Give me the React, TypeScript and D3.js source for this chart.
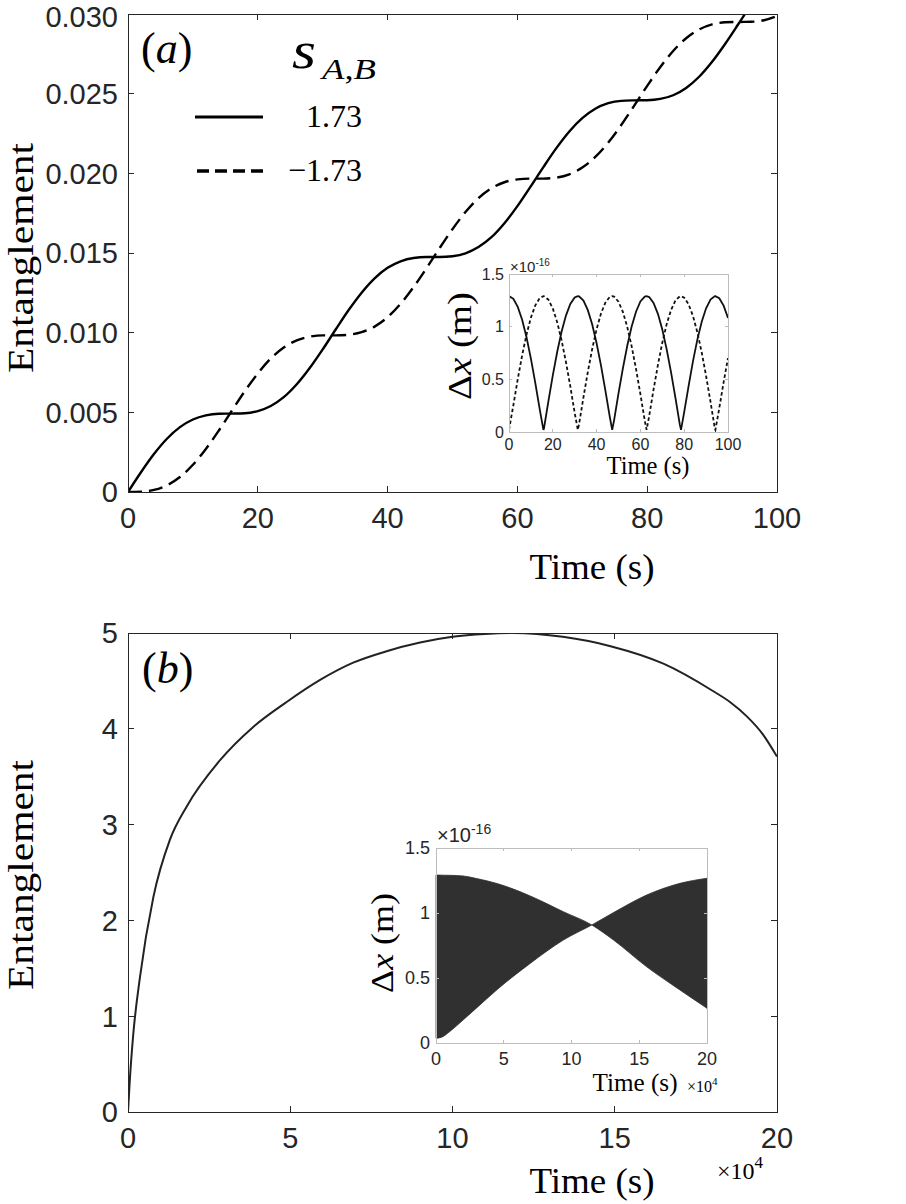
import React from 'react';
import * as d3 from 'd3';

// ---------- Panel (a): entanglement vs time ----------
const timeA = [0, 2, 4, 6, 8, 10, 12, 14, 16, 18, 20, 22, 24, 26, 28, 30, 32, 34, 36, 38, 40, 42, 44, 46, 48, 50, 52, 54, 56, 58, 60, 62, 64, 66, 68, 70, 72, 74, 76, 78, 80, 82, 84, 86, 88, 90, 92, 94, 96, 98, 100];
const entSolidA = [0, 0.00124, 0.00238, 0.00334, 0.00407, 0.00455, 0.00481, 0.00491, 0.00492, 0.00494, 0.00508, 0.0054, 0.00595, 0.00676, 0.00778, 0.00895, 0.0102, 0.01142, 0.01251, 0.01341, 0.01407, 0.01448, 0.01469, 0.01475, 0.01475, 0.0148, 0.01498, 0.01537, 0.01599, 0.01687, 0.01794, 0.01915, 0.02039, 0.02158, 0.02263, 0.02346, 0.02405, 0.0244, 0.02455, 0.02458, 0.02459, 0.02467, 0.0249, 0.02536, 0.02606, 0.027, 0.02812, 0.02934, 0.03059, 0.03174, 0.03273];
const entDashedA = [0, 0.00002, 0.00013, 0.00042, 0.00094, 0.00171, 0.0027, 0.00386, 0.0051, 0.00633, 0.00744, 0.00838, 0.00907, 0.00952, 0.00975, 0.00983, 0.00983, 0.00987, 0.01003, 0.01038, 0.01097, 0.01181, 0.01286, 0.01405, 0.0153, 0.0165, 0.01757, 0.01844, 0.01906, 0.01944, 0.01962, 0.01967, 0.01967, 0.01973, 0.01994, 0.02036, 0.02103, 0.02193, 0.02303, 0.02425, 0.02549, 0.02666, 0.02768, 0.02848, 0.02903, 0.02935, 0.02948, 0.0295, 0.02951, 0.02961, 0.02987];
const xTicksA = [0, 20, 40, 60, 80, 100];
const yTicksA = [0, 0.005, 0.01, 0.015, 0.02, 0.025, 0.03];
const yTickLabelsA = ['0', '0.005', '0.010', '0.015', '0.020', '0.025', '0.030'];
const legendLabels = ['1.73', '\u22121.73'];

// inset (a): Δx vs time
const insetTimeA = [0, 2, 4, 6, 8, 10, 12, 14, 15.71, 16, 18, 20, 22, 24, 26, 28, 30, 31.42, 32, 34, 36, 38, 40, 42, 44, 46, 47.12, 48, 50, 52, 54, 56, 58, 60, 62, 62.83, 64, 66, 68, 70, 72, 74, 76, 78, 78.54, 80, 82, 84, 86, 88, 90, 92, 94, 94.25, 96, 98, 100];
const insetSolidA = [1.29, 1.264, 1.188, 1.065, 0.899, 0.697, 0.467, 0.219, 0.02, 0.038, 0.293, 0.537, 0.759, 0.951, 1.105, 1.215, 1.277, 1.29, 1.288, 1.247, 1.157, 1.02, 0.843, 0.632, 0.396, 0.145, 0.02, 0.113, 0.366, 0.604, 0.819, 1.001, 1.142, 1.239, 1.285, 1.29, 1.281, 1.226, 1.122, 0.973, 0.785, 0.566, 0.324, 0.07, 0.02, 0.188, 0.436, 0.67, 0.877, 1.047, 1.175, 1.257, 1.29, 1.29, 1.27, 1.2, 1.082];
const insetDashedA = [0.02, 0.256, 0.502, 0.728, 0.925, 1.086, 1.202, 1.271, 1.29, 1.289, 1.256, 1.173, 1.043, 0.871, 0.665, 0.432, 0.182, 0.02, 0.075, 0.33, 0.571, 0.789, 0.976, 1.124, 1.228, 1.282, 1.29, 1.285, 1.237, 1.14, 0.997, 0.814, 0.599, 0.36, 0.107, 0.02, 0.15, 0.402, 0.637, 0.848, 1.024, 1.159, 1.249, 1.288, 1.29, 1.276, 1.213, 1.102, 0.947, 0.755, 0.532, 0.288, 0.032, 0.02, 0.225, 0.473, 0.702];
const insetXTicksA = [0, 20, 40, 60, 80, 100];
const insetYTicks = [0, 0.5, 1, 1.5];
const insetYTickLabels = ['0', '0.5', '1', '1.5'];

// ---------- Panel (b) ----------
const timeB = [0, 0.05, 0.154, 0.37, 0.78, 1.29, 1.81, 2.83, 3.86, 4.89, 5.92, 6.94, 7.97, 9.0, 10.0, 11.0, 11.9, 13.4, 14.9, 16.5, 18.0, 18.55, 19.07, 19.57, 20];
const entB = [0, 0.3, 0.78, 1.41, 2.24, 2.84, 3.19, 3.67, 4.02, 4.28, 4.51, 4.69, 4.81, 4.9, 4.96, 4.99, 5.0, 4.96, 4.86, 4.68, 4.4, 4.28, 4.13, 3.94, 3.71];
const xTicksB = [0, 5, 10, 15, 20];
const yTicksB = [0, 1, 2, 3, 4, 5];

// inset (b): envelope of the fast-oscillating Δx
const insetTimeB = [0, 0.5, 1, 2, 3, 4.5, 7, 9.4, 11.5, 13.1, 15.5, 18, 20];
const envelopeFromTop = [1.292, 1.291, 1.29, 1.285, 1.265, 1.227, 1.129, 1.01, 0.908, 0.792, 0.59, 0.408, 0.267];
const envelopeFromBottom = [0.036, 0.049, 0.087, 0.177, 0.27, 0.41, 0.616, 0.792, 0.908, 1.003, 1.136, 1.228, 1.267];
const insetXTicksB = [0, 5, 10, 15, 20];

const SERIF = '"Liberation Serif", "DejaVu Serif", "Noto Serif", serif';
const SANS = '"Liberation Sans", Arial, Helvetica, sans-serif';
const AXC = '#262626';

type Scale = d3.ScaleLinear<number, number>;

function Box({ x, y, xTicks, yTicks, stroke, tickLen }: { x: Scale; y: Scale; xTicks: number[]; yTicks: number[]; stroke: string; tickLen: number }) {
  const [x0, x1] = x.range();
  const [yb, yt] = y.range();
  return (
    <g stroke={stroke} strokeWidth={1} shapeRendering="crispEdges">
      <rect x={x0} y={yt} width={x1 - x0} height={yb - yt} fill="none" />
      {xTicks.map((t) => (
        <g key={'x' + t}>
          <line x1={x(t)} x2={x(t)} y1={yb} y2={yb - tickLen} />
          <line x1={x(t)} x2={x(t)} y1={yt} y2={yt + tickLen} />
        </g>
      ))}
      {yTicks.map((t) => (
        <g key={'y' + t}>
          <line x1={x0} x2={x0 + tickLen} y1={y(t)} y2={y(t)} />
          <line x1={x1} x2={x1 - tickLen} y1={y(t)} y2={y(t)} />
        </g>
      ))}
    </g>
  );
}

function TickLabels({ x, y, xTicks, yTicks, yLabels, xLabels, size, xBase, yRight }: { x: Scale; y: Scale; xTicks: number[]; yTicks: number[]; yLabels: string[]; xLabels: string[]; size: number; xBase: number; yRight: number }) {
  return (
    <g fontFamily={SANS} fontSize={size} fill={AXC}>
      {xTicks.map((t, i) => (
        <text key={'xl' + t} x={x(t)} y={xBase} textAnchor="middle">{xLabels[i]}</text>
      ))}
      {yTicks.map((t, i) => (
        <text key={'yl' + t} x={yRight} y={Math.max(y(t) + size * 0.36, size * 0.93)} textAnchor="end">{yLabels[i]}</text>
      ))}
    </g>
  );
}

function DeltaXLabel({ cx, cy, size, len }: { cx: number; cy: number; size: number; len: number }) {
  return (
    <text transform={`translate(${cx},${cy}) rotate(-90)`} textAnchor="middle" fontFamily={SERIF} fontSize={size} fill="#000" textLength={len} lengthAdjust="spacingAndGlyphs">
      {'\u0394'}<tspan fontStyle="italic">x</tspan>{' (m)'}
    </text>
  );
}

export default function App() {
  // panel a
  const xA = d3.scaleLinear().domain([0, 100]).range([128, 777]);
  const yA = d3.scaleLinear().domain([0, 0.03]).range([492, 14]);
  const lineSolidA = d3.line<number>().x((_, i) => xA(timeA[i])).y((d) => yA(d)).curve(d3.curveMonotoneX)(entSolidA) || '';
  const lineDashedA = d3.line<number>().x((_, i) => xA(timeA[i])).y((d) => yA(d)).curve(d3.curveMonotoneX)(entDashedA) || '';

  const xIA = d3.scaleLinear().domain([0, 100]).range([509, 728]);
  const yIA = d3.scaleLinear().domain([0, 1.5]).range([432, 274]);
  const insetSolid = d3.line<number>().x((_, i) => xIA(insetTimeA[i])).y((d) => yIA(d))(insetSolidA) || '';
  const insetDashed = d3.line<number>().x((_, i) => xIA(insetTimeA[i])).y((d) => yIA(d))(insetDashedA) || '';

  // panel b
  const xB = d3.scaleLinear().domain([0, 20]).range([128, 777]);
  const yB = d3.scaleLinear().domain([0, 5]).range([1112, 633]);
  const lineB = d3.line<number>().x((_, i) => xB(timeB[i])).y((d) => yB(d)).curve(d3.curveMonotoneX)(entB) || '';

  const xIB = d3.scaleLinear().domain([0, 20]).range([436, 707]);
  const yIB = d3.scaleLinear().domain([0, 1.5]).range([1043, 848]);
  const band = d3
    .area<number>()
    .x((_, i) => xIB(insetTimeB[i]))
    .y0((_, i) => yIB(envelopeFromBottom[i]))
    .y1((_, i) => yIB(envelopeFromTop[i]))
    .curve(d3.curveMonotoneX)(insetTimeB) || '';

  return (
    <svg width={906} height={1204} style={{ position: 'absolute', left: 0, top: 0, background: '#fff' }}>
      <defs>
        <clipPath id="clipA"><rect x={128} y={14} width={649} height={478} /></clipPath>
        <clipPath id="clipIA"><rect x={509} y={274} width={219} height={158} /></clipPath>
        <clipPath id="clipB"><rect x={128} y={633} width={649} height={479} /></clipPath>
      </defs>
      <rect x={0} y={0} width={906} height={1204} fill="#fff" />

      {/* ================= Panel (a) ================= */}
      <g clipPath="url(#clipA)" fill="none" stroke="#000" strokeWidth={2.4}>
        <path d={lineSolidA} />
        <path d={lineDashedA} strokeDasharray="14 7" />
      </g>
      <Box x={xA} y={yA} xTicks={xTicksA} yTicks={yTicksA} stroke={AXC} tickLen={6} />
      <TickLabels x={xA} y={yA} xTicks={xTicksA} yTicks={yTicksA} yLabels={yTickLabelsA} xLabels={xTicksA.map(String)} size={29} xBase={528} yRight={118} />
      <text transform="translate(33,258) rotate(-90)" textAnchor="middle" fontFamily={SERIF} fontSize={35} textLength={230} lengthAdjust="spacingAndGlyphs">Entanglement</text>
      <text x={592} y={579} textAnchor="middle" fontFamily={SERIF} fontSize={35} textLength={125} lengthAdjust="spacingAndGlyphs">Time (s)</text>
      <text x={141} y={63} fontFamily={SERIF} fontSize={44}>(<tspan fontStyle="italic">a</tspan>)</text>

      {/* legend */}
      <text x={292} y={68} fontFamily={SERIF} fontSize={52} fontStyle="italic" textLength={24} lengthAdjust="spacingAndGlyphs">s</text>
      <text x={322} y={79} fontFamily={SERIF} fontSize={30} fontStyle="italic" textLength={54} lengthAdjust="spacingAndGlyphs">A<tspan fontStyle="normal">,</tspan>B</text>
      <line x1={195} x2={263} y1={117} y2={117} stroke="#000" strokeWidth={3} />
      <line x1={197} x2={263} y1={171} y2={171} stroke="#000" strokeWidth={3.5} strokeDasharray="12 6" />
      <text x={362} y={127} textAnchor="end" fontFamily={SERIF} fontSize={32}>{legendLabels[0]}</text>
      <text x={362} y={181} textAnchor="end" fontFamily={SERIF} fontSize={32}>{legendLabels[1]}</text>

      {/* inset a */}
      <rect x={509} y={274} width={219} height={158} fill="#fff" />
      <g clipPath="url(#clipIA)" fill="none" stroke="#111" strokeWidth={1.8}>
        <path d={insetSolid} />
        <path d={insetDashed} strokeDasharray="3.5 2.5" />
      </g>
      <Box x={xIA} y={yIA} xTicks={insetXTicksA} yTicks={insetYTicks} stroke="#bdbdbd" tickLen={3} />
      <TickLabels x={xIA} y={yIA} xTicks={insetXTicksA} yTicks={insetYTicks} yLabels={insetYTickLabels} xLabels={insetXTicksA.map(String)} size={16} xBase={450} yRight={504} />
      <text x={510} y={272} fontFamily={SANS} fontSize={15} fill={AXC}>{'\u00d710'}<tspan fontSize={10} dy={-6}>-16</tspan></text>
      <text x={648} y={474} textAnchor="middle" fontFamily={SERIF} fontSize={25} textLength={83} lengthAdjust="spacingAndGlyphs">Time (s)</text>
      <DeltaXLabel cx={471} cy={346} size={33} len={108} />

      {/* ================= Panel (b) ================= */}
      <g clipPath="url(#clipB)" fill="none" stroke="#222" strokeWidth={2}>
        <path d={lineB} />
      </g>
      <Box x={xB} y={yB} xTicks={xTicksB} yTicks={yTicksB} stroke={AXC} tickLen={6} />
      <TickLabels x={xB} y={yB} xTicks={xTicksB} yTicks={yTicksB} yLabels={yTicksB.map(String)} xLabels={xTicksB.map(String)} size={29} xBase={1148} yRight={118} />
      <text transform="translate(33,875) rotate(-90)" textAnchor="middle" fontFamily={SERIF} fontSize={35} textLength={230} lengthAdjust="spacingAndGlyphs">Entanglement</text>
      <text x={592} y={1193} textAnchor="middle" fontFamily={SERIF} fontSize={35} textLength={125} lengthAdjust="spacingAndGlyphs">Time (s)</text>
      <text x={717} y={1179} fontFamily={SERIF} fontSize={24}>{'\u00d710'}<tspan fontSize={17} dy={-11}>4</tspan></text>
      <text x={142} y={683} fontFamily={SERIF} fontSize={44}>(<tspan fontStyle="italic">b</tspan>)</text>

      {/* inset b */}
      <rect x={436} y={848} width={271} height={195} fill="#fff" />
      <path d={band} fill="#303030" stroke="#303030" strokeWidth={0.8} />
      <Box x={xIB} y={yIB} xTicks={insetXTicksB} yTicks={insetYTicks} stroke="#bdbdbd" tickLen={3} />
      <TickLabels x={xIB} y={yIB} xTicks={insetXTicksB} yTicks={insetYTicks} yLabels={insetYTickLabels} xLabels={insetXTicksB.map(String)} size={18} xBase={1065} yRight={430} />
      <text x={437} y={842} fontFamily={SANS} fontSize={20} fill={AXC}>{'\u00d710'}<tspan fontSize={14} dy={-8}>-16</tspan></text>
      <text x={635} y={1091} textAnchor="middle" fontFamily={SERIF} fontSize={26} textLength={85} lengthAdjust="spacingAndGlyphs">Time (s)</text>
      <text x={687} y={1092} fontFamily={SERIF} fontSize={16}>{'\u00d710'}<tspan fontSize={11} dy={-7}>4</tspan></text>
      <DeltaXLabel cx={393} cy={943} size={32} len={100} />
    </svg>
  );
}
